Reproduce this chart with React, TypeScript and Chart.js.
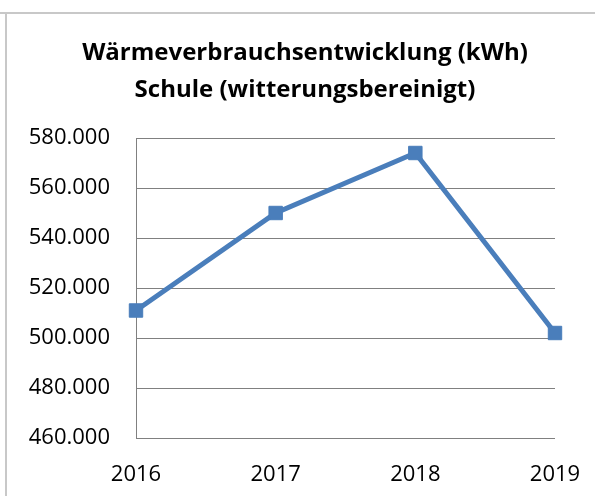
import React, { useEffect, useRef } from "react";
import { Chart, registerables } from "chart.js";

Chart.register(...registerables);

const years = ["2016", "2017", "2018", "2019"];
const heatKWh = [511000, 550000, 574000, 502000];
const titleLines = ["Wärmeverbrauchsentwicklung (kWh)", "Schule (witterungsbereinigt)"];
const yMin = 460000;
const yMax = 580000;
const yStep = 20000;

const fmt = (v: number) => {
  const s = Math.round(v).toString();
  return s.replace(/\B(?=(\d{3})+(?!\d))/g, ".");
};

const FONT = "'Open Sans', 'Liberation Sans', sans-serif";

const titlePlugin = {
  id: "twoLineTitle",
  afterDraw(chart: any) {
    const ctx = chart.ctx;
    ctx.save();
    ctx.fillStyle = "#000000";
    ctx.font = `bold 24px ${FONT}`;
    ctx.textAlign = "center";
    ctx.textBaseline = "alphabetic";
    titleLines.forEach((line, i) => {
      ctx.fillText(line, 305, 60 + i * 37);
    });
    ctx.restore();
  },
};

export default function App() {
  const ref = useRef<HTMLCanvasElement | null>(null);

  useEffect(() => {
    if (!ref.current) return;
    const chart = new Chart(ref.current, {
      type: "line",
      data: {
        labels: years,
        datasets: [
          {
            data: heatKWh,
            borderColor: "#4a7ebb",
            backgroundColor: "#4a7ebb",
            borderWidth: 5,
            pointStyle: "rect",
            pointRadius: 9.5,
            pointBorderWidth: 1,
            pointBorderColor: "#4a7ebb",
            pointBackgroundColor: "#4a7ebb",
            tension: 0,
          },
        ],
      },
      options: {
        animation: false,
        responsive: false,
        maintainAspectRatio: false,
        layout: { padding: { left: 0, right: 40, top: 138, bottom: 0 } },
        plugins: {
          legend: { display: false },
          tooltip: { enabled: false },
          title: { display: false },
        },
        scales: {
          x: {
            type: "category",
            offset: false,
            grid: { display: false, drawTicks: false },
            border: { display: false },
            ticks: {
              color: "#000000",
              font: { family: FONT, size: 22 },
              padding: 24,
              maxRotation: 0,
            },
            afterFit: (s: any) => {
              s.height = 58;
              s.paddingLeft = 0;
              s.paddingRight = 0;
            },
          },
          y: {
            min: yMin,
            max: yMax,
            grid: { color: "#808080", lineWidth: 1, drawTicks: false },
            border: { display: true, color: "#808080", width: 1 },
            ticks: {
              stepSize: yStep,
              color: "#000000",
              font: { family: FONT, size: 22 },
              padding: 26,
              callback: (v: any) => fmt(Number(v)),
            },
            afterFit: (s: any) => {
              s.width = 136;
              s.paddingTop = 0;
              s.paddingBottom = 0;
            },
          },
        },
      },
      plugins: [titlePlugin],
    });
    return () => chart.destroy();
  }, []);

  return (
    <div style={{ position: "absolute", left: 0, top: 0, width: 595, height: 496, background: "#ffffff", overflow: "hidden" }}>
      <div style={{ position: "absolute", left: 0, top: 12, width: 595, height: 2, background: "#c8c8c8" }} />
      <div style={{ position: "absolute", left: 5, top: 12, width: 2, height: 484, background: "#c8c8c8" }} />
      <canvas ref={ref} width={595} height={496} style={{ position: "absolute", left: 0, top: 0, width: 595, height: 496 }} />
    </div>
  );
}
